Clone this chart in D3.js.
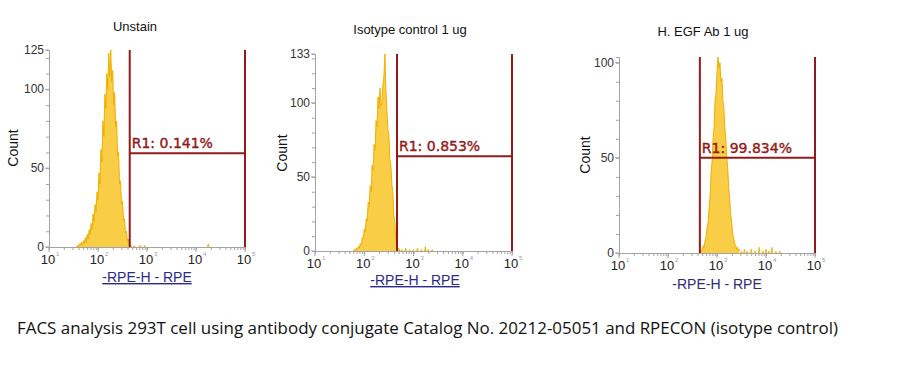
<!DOCTYPE html>
<html>
<head>
<meta charset="utf-8">
<script src="https://cdn.jsdelivr.net/npm/d3@7"></script>
<style>
  body { margin: 0; background: #fff; }
  svg { display: block; }
</style>
</head>
<body>
<svg id="chart" width="904" height="369"></svg>
<script>
// channel width in log10 units
var channelStep = 0.02;

// Unstain
var unstainStart = 1.56;
var unstainCounts = [0,1,0,2,1,3,1,4,2,6,3,8,5,11,8,15,11,21,16,27,22,35,30,47,40,62,54,80,70,97,
                     88,110,100,123,108,125,105,112,90,98,76,80,58,60,40,42,27,29,17,18,9,10,4,5,1,2,0,0];
var unstainTail = [[2.74,1],[2.86,1],[2.95,1],[4.25,2]];

// Isotype control 1 ug
var isotypeStart = 1.78;
var isotypeCounts = [0,1,0,2,1,3,2,5,4,9,8,15,13,22,20,33,30,44,40,58,54,72,68,88,84,104,96,110,98,100,
                     112,118,133,108,95,82,78,62,58,45,40,24,20,8,5,1,2,0];
var isotypeTail = [[2.76,1],[2.84,2],[2.92,1],[3.0,1],[3.08,2],[3.16,1],[3.24,3],[3.3,1],[3.38,1]];

// H. EGF Ab 1 ug
var egfStart = 2.66;
var egfCounts = [0,1,2,4,3,7,9,14,16,24,30,42,48,60,66,80,84,95,103,97,100,90,92,80,76,66,60,50,44,34,
                 28,20,16,10,8,5,4,2,3,1,2];
var egfTail = [[3.5,1],[3.56,2],[3.62,1],[3.7,2],[3.78,1],[3.86,3],[3.94,1],[4.0,2],[4.06,1],[4.12,3],[4.2,1],[4.28,1]];

var titles = ["Unstain", "Isotype control 1 ug", "H. EGF Ab 1 ug"];
var yMaxes = [125, 133, 103];
var yTickLabels = [[0,50,100,125], [0,50,100,133], [0,50,100]];
var gateLow = [444, 462, 447];
var gateHigh = 100000;
var gateLevel = [59.5, 64, 50];
var gateLabels = ["R1: 0.141%", "R1: 0.853%", "R1: 99.834%"];
var xLabel = "-RPE-H - RPE";
var caption = "FACS analysis 293T cell using antibody conjugate Catalog No. 20212-05051 and RPECON (isotype control)";

var panels = [
  {box:[49,50,245,247], title:[135,31], count:[13,148], xl:[147,282], underline:true, color:"#2a2a8c",
   start:unstainStart, counts:unstainCounts, tail:unstainTail},
  {box:[315,54,512,251], title:[410,34], count:[282,153], xl:[415,285], underline:true, color:"#2a2a8c",
   start:isotypeStart, counts:isotypeCounts, tail:isotypeTail},
  {box:[619,57,815,253], title:[703,36], count:[585,155], xl:[717,289], underline:false, color:"#2c2c70",
   start:egfStart, counts:egfCounts, tail:egfTail}
];

var svg = d3.select("#chart");
var axisGray = "#a3a3a3";
var gateColor = "#931a1a";

panels.forEach(function(p, k){
    var x = d3.scaleLog().domain([10, 1e5]).range([p.box[0], p.box[2]]);
    var y = d3.scaleLinear().domain([0, yMaxes[k]]).range([p.box[3], p.box[1]]);
    var g = svg.append("g");

    // histogram
    var pts = p.counts.map(function(c, i){ return [Math.pow(10, p.start + i*channelStep), c]; });
    var area = d3.area().x(d => x(d[0])).y0(y(0)).y1(d => y(d[1]));
    var line = d3.line().x(d => x(d[0])).y(d => y(d[1]));
    g.append("path").attr("d", area(pts)).attr("fill", "#f9cd45");
    g.append("path").attr("d", line(pts)).attr("fill", "none")
        .attr("stroke", "#f0b000").attr("stroke-width", 1);
    g.selectAll(".tail").data(p.tail).enter().append("path")
        .attr("class", "tail")
        .attr("d", function(d){
            var xv = x(Math.pow(10, d[0]));
            return "M" + (xv-0.8) + "," + y(0) + "L" + xv + "," + y(d[1]) + "L" + (xv+0.8) + "," + y(0);
        })
        .attr("fill", "#f9cd45").attr("stroke", "#f0b000").attr("stroke-width", 0.8);

    // y axis
    var minorY = d3.range(0, yMaxes[k] + 0.1, 10);
    var yAxis = g.append("g").attr("transform", "translate(" + p.box[0] + ",0)")
        .call(d3.axisLeft(y).tickValues(minorY).tickSize(3).tickFormat(""));
    yAxis.select(".domain").attr("stroke", axisGray);
    yAxis.selectAll("line").attr("stroke", axisGray);
    g.selectAll(".ylab").data(yTickLabels[k]).enter().append("text")
        .attr("x", p.box[0] - 5).attr("y", d => y(d) + 4)
        .attr("text-anchor", "end")
        .style("font-family", "Liberation Sans, Arial, sans-serif").style("font-size", "12px")
        .attr("fill", "#333").text(d => d);
    g.selectAll(".ymaj").data(yTickLabels[k]).enter().append("line")
        .attr("x1", p.box[0] - 4).attr("x2", p.box[0]).attr("y1", d => y(d)).attr("y2", d => y(d))
        .attr("stroke", axisGray);

    // x axis
    var minorX = [];
    [10, 100, 1000, 10000].forEach(function(dec){
        for (var m = 1; m < 10; m++) minorX.push(dec*m);
    });
    minorX.push(1e5);
    var xAxis = g.append("g").attr("transform", "translate(0," + p.box[3] + ")")
        .call(d3.axisBottom(x).tickValues(minorX).tickSize(3).tickFormat(""));
    xAxis.select(".domain").attr("stroke", axisGray);
    xAxis.selectAll("line").attr("stroke", axisGray);
    var majors = [1, 2, 3, 4, 5];
    majors.forEach(function(e){
        var xv = x(Math.pow(10, e));
        g.append("line").attr("x1", xv).attr("x2", xv).attr("y1", p.box[3]).attr("y2", p.box[3] + 5)
            .attr("stroke", axisGray);
        g.append("text").attr("x", xv - 1).attr("y", p.box[3] + 17)
            .attr("text-anchor", "middle")
            .style("font-family", "Liberation Sans, Arial, sans-serif").style("font-size", "13px")
            .attr("fill", "#222").text("10");
        g.append("text").attr("x", xv + 7).attr("y", p.box[3] + 9)
            .style("font-family", "Liberation Sans, Arial, sans-serif").style("font-size", "6px")
            .attr("fill", "#999").text(e);
    });

    // gate
    var gl = x(gateLow[k]), gh = x(gateHigh), gy = y(gateLevel[k]);
    g.append("line").attr("x1", gl).attr("x2", gl).attr("y1", p.box[1]).attr("y2", p.box[3])
        .attr("stroke", gateColor).attr("stroke-width", 2);
    g.append("line").attr("x1", gh).attr("x2", gh).attr("y1", p.box[1]).attr("y2", p.box[3])
        .attr("stroke", gateColor).attr("stroke-width", 2);
    g.append("line").attr("x1", gl).attr("x2", gh).attr("y1", gy).attr("y2", gy)
        .attr("stroke", gateColor).attr("stroke-width", 2);
    g.append("text").attr("x", gl + 2).attr("y", gy - 5)
        .style("font-family", "DejaVu Sans, Verdana, sans-serif").style("font-size", "14px")
        .attr("fill", gateColor).attr("stroke", gateColor).attr("stroke-width", 0.4)
        .text(gateLabels[k]);

    // titles
    g.append("text").attr("x", p.title[0]).attr("y", p.title[1]).attr("text-anchor", "middle")
        .style("font-family", "Liberation Sans, Arial, sans-serif").style("font-size", "13px")
        .attr("fill", "#111").text(titles[k]);
    g.append("text").attr("transform", "translate(" + (p.count[0] + 5) + "," + p.count[1] + ") rotate(-90)")
        .attr("text-anchor", "middle")
        .style("font-family", "Liberation Sans, Arial, sans-serif").style("font-size", "14px")
        .attr("fill", "#111").text("Count");
    g.append("text").attr("x", p.xl[0]).attr("y", p.xl[1]).attr("text-anchor", "middle")
        .style("font-family", "Liberation Sans, Arial, sans-serif").style("font-size", "14px")
        .style("text-decoration", p.underline ? "underline" : "none")
        .attr("fill", p.color).text(xLabel);
});

svg.append("text").attr("x", 17).attr("y", 334)
    .attr("textLength", 821).attr("lengthAdjust", "spacingAndGlyphs")
    .style("font-family", "Open Sans, sans-serif").style("font-size", "16px")
    .attr("fill", "#111").text(caption);
</script>
</body>
</html>
